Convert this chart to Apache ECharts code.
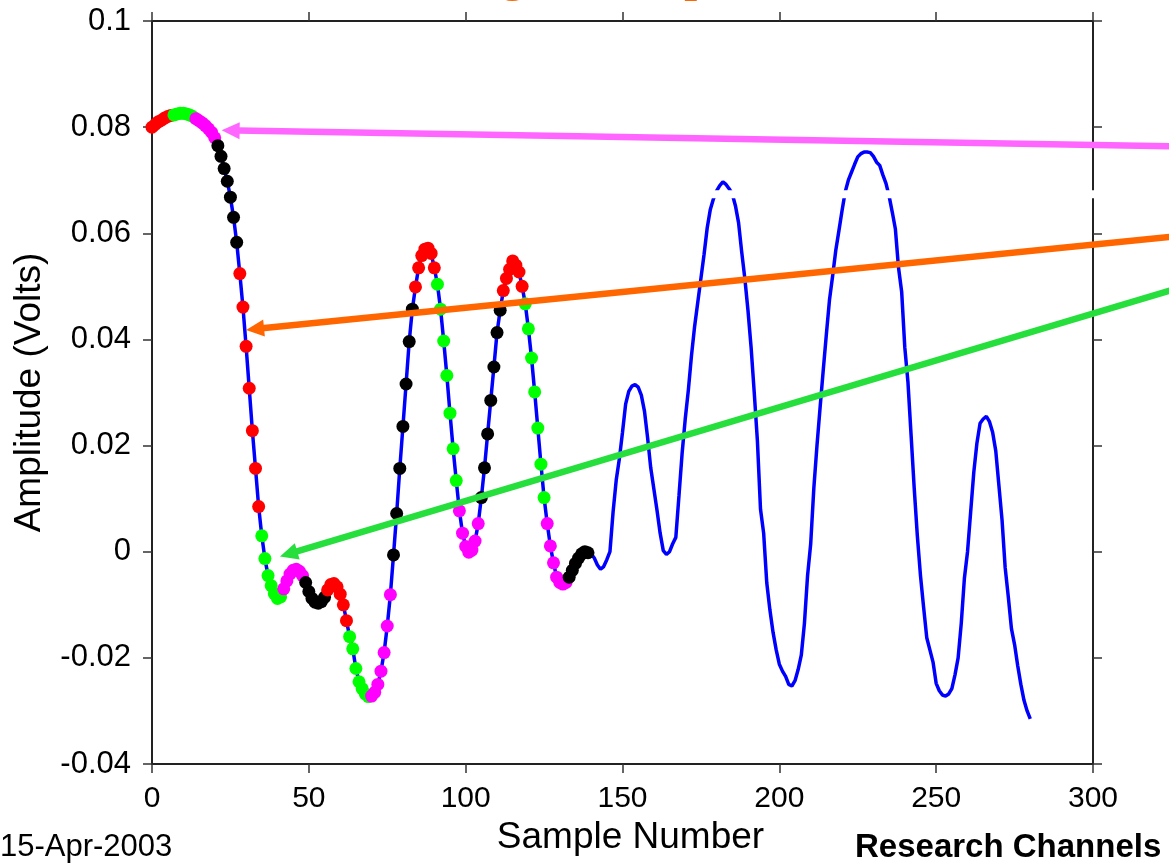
<!DOCTYPE html>
<html>
<head>
<meta charset="utf-8">
<script src="https://cdn.jsdelivr.net/npm/echarts@6/dist/echarts.min.js"></script>
<style>
html, body { margin: 0; padding: 0; background: #fff; }
#chart { width: 1169px; height: 863px; }
</style>
</head>
<body>
<div id="chart"></div>
<script>
// amplitude per sample (volts), samples 0..280
const amplitude = [
    0.0800, 0.0805, 0.0810, 0.0813, 0.0817, 0.0820, 0.0822, 0.0823, 0.0825, 0.0826,
    0.0826, 0.0825, 0.0823, 0.0820, 0.0816, 0.0812, 0.0808, 0.0803, 0.0797, 0.0790,
    0.0780, 0.0765, 0.0745, 0.0722, 0.0698, 0.0668, 0.0630, 0.0583, 0.0524, 0.0461,
    0.0387, 0.0308, 0.0228, 0.0157, 0.0085, 0.0030, -0.0013, -0.0045, -0.0064, -0.0079,
    -0.0088, -0.0085, -0.0070, -0.0055, -0.0042, -0.0035, -0.0033, -0.0037, -0.0045, -0.0058,
    -0.0075, -0.0088, -0.0095, -0.0097, -0.0094, -0.0086, -0.0072, -0.0062, -0.0060, -0.0066,
    -0.0080, -0.0100, -0.0130, -0.0160, -0.0183, -0.0220, -0.0245, -0.0258, -0.0268, -0.0273,
    -0.0272, -0.0265, -0.0250, -0.0225, -0.0190, -0.0140, -0.0081, -0.0006, 0.0072, 0.0157,
    0.0236, 0.0316, 0.0396, 0.0457, 0.0499, 0.0535, 0.0558, 0.0570, 0.0572, 0.0562,
    0.0535, 0.0504, 0.0457, 0.0397, 0.0332, 0.0261, 0.0194, 0.0134, 0.0077, 0.0035,
    0.0010, -0.0001, 0.0003, 0.0020, 0.0053, 0.0102, 0.0158, 0.0222, 0.0285, 0.0348,
    0.0413, 0.0455, 0.0492, 0.0515, 0.0532, 0.0548, 0.0540, 0.0527, 0.0500, 0.0467,
    0.0420, 0.0365, 0.0301, 0.0233, 0.0165, 0.0102, 0.0053, 0.0011, -0.0021, -0.0048,
    -0.0058, -0.0061, -0.0058, -0.0048, -0.0035, -0.0022, -0.0012, -0.0004, 0.0000, -0.0002,
    -0.0004, -0.0012, -0.0025, -0.0033, -0.0028, -0.0015, 0.0000, 0.0075, 0.0135, 0.0175,
    0.0225, 0.0278, 0.0302, 0.0312, 0.0315, 0.0310, 0.0295, 0.0265, 0.0215, 0.0158,
    0.0118, 0.0078, 0.0035, 0.0002, -0.0005, 0.0000, 0.0015, 0.0027, 0.0105, 0.0185,
    0.0250, 0.0305, 0.0370, 0.0425, 0.0470, 0.0515, 0.0560, 0.0610, 0.0645, 0.0665,
    0.0680, 0.0690, 0.0697, 0.0692, 0.0684, 0.0674, 0.0652, 0.0620, 0.0565, 0.0515,
    0.0455, 0.0385, 0.0300, 0.0210, 0.0080, 0.0035, -0.0059, -0.0110, -0.0152, -0.0185,
    -0.0212, -0.0225, -0.0235, -0.0250, -0.0253, -0.0243, -0.0222, -0.0195, -0.0135, -0.0045,
    0.0015, 0.0120, 0.0200, 0.0272, 0.0342, 0.0410, 0.0475, 0.0520, 0.0568, 0.0605,
    0.0643, 0.0678, 0.0700, 0.0715, 0.0730, 0.0744, 0.0750, 0.0753, 0.0753, 0.0752,
    0.0745, 0.0734, 0.0728, 0.0710, 0.0694, 0.0670, 0.0640, 0.0608, 0.0535, 0.0490,
    0.0385, 0.0320, 0.0220, 0.0120, 0.0030, -0.0045, -0.0105, -0.0162, -0.0185, -0.0208,
    -0.0248, -0.0262, -0.0270, -0.0272, -0.0268, -0.0258, -0.0232, -0.0200, -0.0135, -0.0050,
    0.0000, 0.0075, 0.0150, 0.0205, 0.0242, 0.0250, 0.0255, 0.0245, 0.0225, 0.0190,
    0.0125, 0.0060, -0.0030, -0.0085, -0.0145, -0.0175, -0.0215, -0.0250, -0.0280, -0.0300,
    -0.0315
];

// first samples are marked with dots, colour changes every 7 samples
const markedCount = 140;
const groupSize = 7;
const dotColors = ['#ff0000', '#00ff00', '#ff00ff', '#000000'];

const xTicks = { min: 0, max: 300, step: 50 };
const yTicks = { min: -0.04, max: 0.1, step: 0.02 };

// arrows pointing at the curve (data coords), tail -> tip
const pointerColors = ['#ff66ff', '#ff6600', '#26df3c'];
const pointerTails = [[324.5, 0.0764], [324.5, 0.0593], [324.5, 0.0492]];
const pointerTips = [[22.2, 0.0794], [30.0, 0.0418], [40.8, -0.0009]];

const FONT = '"Liberation Sans", Arial, sans-serif';

const chart = echarts.init(document.getElementById('chart'));

const axisLine = { onZero: false, lineStyle: { color: '#222', width: 2 } };
const axisTick = { length: 9, lineStyle: { color: '#333', width: 1.5 } };

const option = {
    animation: false,
    backgroundColor: '#fff',
    grid: { left: 152, right: 76, top: 21, bottom: 99 },
    xAxis: [{
        type: 'value',
        position: 'bottom',
        min: xTicks.min, max: xTicks.max, interval: xTicks.step,
        axisLine: axisLine,
        axisTick: axisTick,
        splitLine: { show: false },
        axisLabel: { fontFamily: FONT, fontSize: 30, color: '#000', margin: 20 },
        name: 'Sample Number',
        nameLocation: 'middle',
        nameGap: 46,
        nameTextStyle: { fontFamily: FONT, fontSize: 37, color: '#000', padding: [0, 0, 0, 16] }
    }, {
        type: 'value',
        position: 'top',
        min: xTicks.min, max: xTicks.max, interval: xTicks.step,
        axisLine: axisLine,
        axisTick: axisTick,
        splitLine: { show: false },
        axisLabel: { show: false }
    }],
    yAxis: [{
        type: 'value',
        position: 'left',
        min: yTicks.min, max: yTicks.max, interval: yTicks.step,
        axisLine: axisLine,
        axisTick: axisTick,
        splitLine: { show: false },
        axisLabel: {
            fontFamily: FONT, fontSize: 31, color: '#000', margin: 21,
            formatter: v => String(parseFloat(v.toFixed(2)))
        },
        name: 'Amplitude (Volts)',
        nameLocation: 'middle',
        nameGap: 104,
        nameTextStyle: { fontFamily: FONT, fontSize: 37, color: '#000' }
    }, {
        type: 'value',
        position: 'right',
        min: yTicks.min, max: yTicks.max, interval: yTicks.step,
        axisLine: axisLine,
        axisTick: axisTick,
        splitLine: { show: false },
        axisLabel: { show: false }
    }],
    series: [{
        type: 'line',
        data: amplitude.map((v, i) => [i, v]),
        showSymbol: false,
        lineStyle: { color: '#0000ff', width: 3.5 },
        z: 2
    }, {
        type: 'scatter',
        data: amplitude.slice(0, markedCount).map((v, i) => ({
            value: [i, v],
            itemStyle: { color: dotColors[Math.floor(i / groupSize) % dotColors.length], opacity: 1 }
        })),
        symbolSize: 13,
        itemStyle: { opacity: 1 },
        z: 3
    }]
};

chart.setOption(option);

function toPx(pt) {
    return chart.convertToPixel({ xAxisIndex: 0, yAxisIndex: 0 }, pt);
}

const graphics = [];

// white stripe crossing the upper right of the plot
const bandA = toPx([176, 0.0681]);
const bandB = toPx([305, 0.0666]);
graphics.push({
    type: 'rect', silent: true, z: 50,
    shape: { x: bandA[0], y: bandA[1], width: bandB[0] - bandA[0], height: bandB[1] - bandA[1] },
    style: { fill: '#fff' }
});

// arrows
pointerTails.forEach((tail, k) => {
    const p1 = toPx(tail);
    const p2 = toPx(pointerTips[k]);
    const dx = p2[0] - p1[0], dy = p2[1] - p1[1];
    const len = Math.sqrt(dx * dx + dy * dy);
    const ux = dx / len, uy = dy / len;
    const headLen = 18, headW = 17;
    const base = [p2[0] - ux * headLen, p2[1] - uy * headLen];
    graphics.push({
        type: 'line', silent: true, z: 60,
        shape: { x1: p1[0], y1: p1[1], x2: base[0] + ux * 2, y2: base[1] + uy * 2 },
        style: { stroke: pointerColors[k], lineWidth: 6.5 }
    });
    graphics.push({
        type: 'polygon', silent: true, z: 60,
        shape: { points: [p2, [base[0] - uy * headW / 2, base[1] + ux * headW / 2], [base[0] + uy * headW / 2, base[1] - ux * headW / 2]] },
        style: { fill: pointerColors[k] }
    });
});

// title (mostly above the visible area)
graphics.push({
    type: 'text', silent: true, z: 70,
    x: 612, y: 2,
    style: {
        text: 'Signal Samples',
        font: 'bold 46px "Liberation Serif", "Times New Roman", serif',
        fill: '#ff6600',
        align: 'center', verticalAlign: 'bottom',
        textAlign: 'center', textVerticalAlign: 'bottom'
    }
});

graphics.push({
    type: 'text', silent: true, z: 70,
    x: 0, y: 847,
    style: {
        text: '15-Apr-2003', font: '31px ' + FONT, fill: '#000',
        align: 'left', verticalAlign: 'middle', textAlign: 'left', textVerticalAlign: 'middle'
    }
});
graphics.push({
    type: 'text', silent: true, z: 70,
    x: 855, y: 848,
    style: {
        text: 'Research Channels', font: 'bold 33px ' + FONT, fill: '#000',
        align: 'left', verticalAlign: 'middle', textAlign: 'left', textVerticalAlign: 'middle'
    }
});

chart.setOption({ graphic: graphics });
</script>
</body>
</html>
